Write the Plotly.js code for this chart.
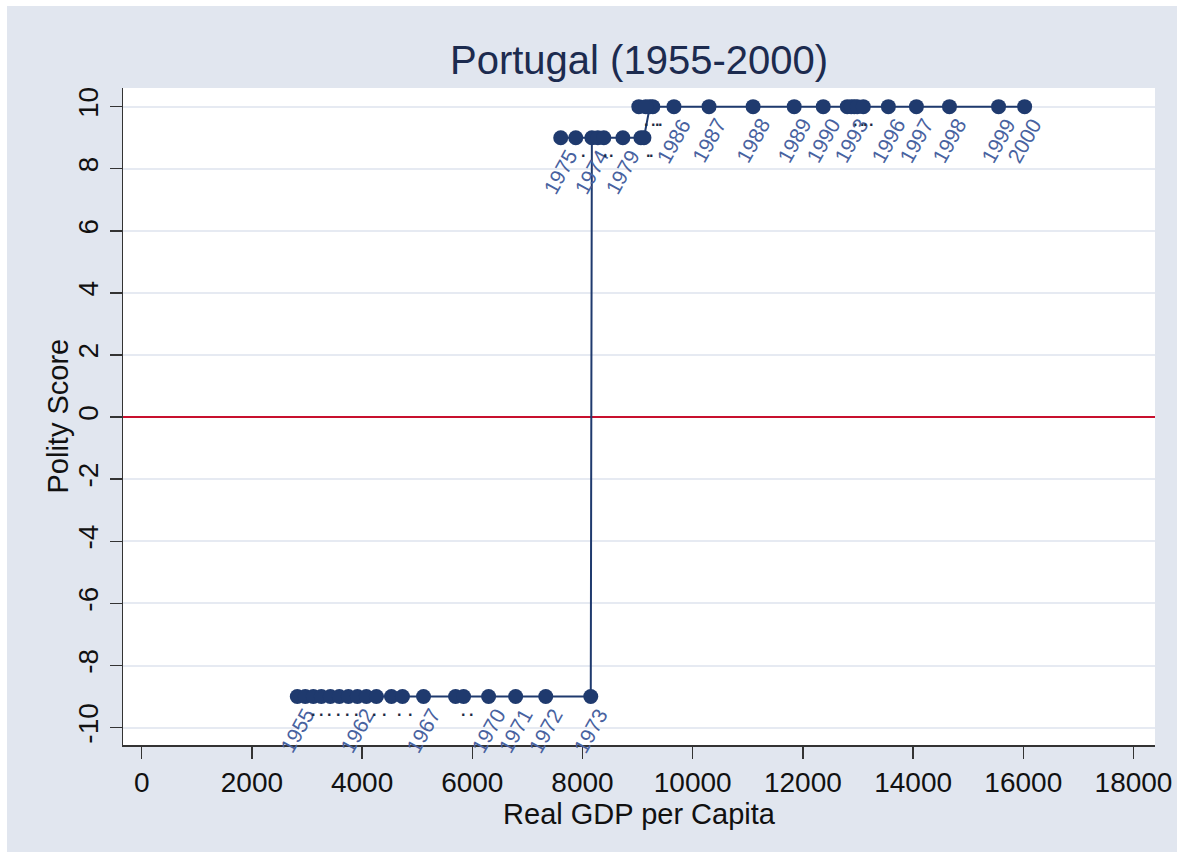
<!DOCTYPE html>
<html>
<head>
<meta charset="utf-8">
<script src="https://cdn.plot.ly/plotly-3.0.1.min.js"></script>
<style>
html,body{margin:0;padding:0;background:#ffffff;}
#chart{position:absolute;left:7px;top:6px;width:1170px;height:846px;}
</style>
</head>
<body>
<div id="chart"></div>
<script>
// Data
const years = [1955,1956,1957,1958,1959,1960,1961,1962,1963,1964,1965,1966,1967,1968,1969,1970,1971,1972,1973,
               1974,1975,1976,1977,1978,1979,1980,1981,
               1982,1983,1984,1985,1986,1987,1988,1989,1990,1991,1992,1993,1994,1995,1996,1997,1998,1999,2000];
const gdp = [2824,2969,3115,3260,3424,3587,3751,3915,4078,4260,4533,4733,5115,5696,5842,6296,6787,7333,8150,
             8170,7605,7878,8278,8387,8733,9060,9115,
             9222,9276,9022,9149,9660,10296,11096,11842,12369,12805,12933,12878,12987,13096,13551,14060,14660,15551,16024];
const polity = [-9,-9,-9,-9,-9,-9,-9,-9,-9,-9,-9,-9,-9,-9,-9,-9,-9,-9,-9,
                9,9,9,9,9,9,9,9,
                10,10,10,10,10,10,10,10,10,10,10,10,10,10,10,10,10,10,10];
const shownLabels = [1955,1962,1967,1970,1971,1972,1973,1974,1975,1979,1986,1987,1988,1989,1990,1993,1996,1997,1998,1999,2000];
const xTicks = [0,2000,4000,6000,8000,10000,12000,14000,16000,18000];
const yTicks = [-10,-8,-6,-4,-2,0,2,4,6,8,10];

const navy = '#1f3a6e';
const labelColor = '#4862a0';
const font = 'Liberation Sans, Arial, sans-serif';

const trace = {
  x: gdp, y: polity, type: 'scatter', mode: 'lines+markers',
  line: {color: navy, width: 2},
  marker: {color: navy, size: 15},
  hoverinfo: 'skip', showlegend: false
};

const annotations = [];
for (let i = 0; i < years.length; i++) {
  const named = shownLabels.indexOf(years[i]) >= 0;
  annotations.push(named ? {
    x: gdp[i], y: polity[i], xref: 'x', yref: 'y',
    text: String(years[i]), showarrow: false, textangle: -61,
    xanchor: 'center', yanchor: 'middle', yshift: -34, xshift: 0,
    font: {family: font, size: 21, color: labelColor}
  } : {
    x: gdp[i], y: polity[i], xref: 'x', yref: 'y',
    text: '<b>·</b>', showarrow: false,
    xanchor: 'center', yanchor: 'middle', yshift: -18, xshift: 8,
    font: {family: font, size: 16, color: '#1e2a44'}
  });
}
annotations.push({
  text: 'Polity Score', xref: 'paper', yref: 'paper', x: 0, y: 0.5,
  xshift: -66, textangle: -90, showarrow: false, xanchor: 'center', yanchor: 'middle',
  font: {family: font, size: 29, color: '#111111'}
});

const layout = {
  width: 1170, height: 846,
  paper_bgcolor: '#e1e6ef', plot_bgcolor: '#ffffff',
  margin: {l: 116, r: 22, t: 82, b: 107},
  font: {family: font, color: '#111111'},
  title: {text: 'Portugal (1955-2000)', font: {family: font, size: 40, color: '#1c2b4f'},
          x: 0.5, xref: 'paper', xanchor: 'center', y: 0.936, yref: 'container', yanchor: 'middle'},
  xaxis: {
    range: [-339, 18390], tickvals: xTicks, ticktext: xTicks.map(String),
    showgrid: false, zeroline: false, showline: true, linecolor: '#333333', linewidth: 1.5,
    ticks: 'outside', ticklen: 12, tickwidth: 1.5, tickcolor: '#333333',
    tickfont: {family: font, size: 28, color: '#111111'},
    title: {text: 'Real GDP per Capita', font: {family: font, size: 29, color: '#111111'}, standoff: 0}
  },
  yaxis: {
    range: [-10.56, 10.6], tickvals: yTicks, ticktext: yTicks.map(String), tickangle: -90,
    showgrid: true, gridcolor: '#e6eaf2', gridwidth: 2,
    zeroline: true, zerolinecolor: '#c8102e', zerolinewidth: 2,
    showline: true, linecolor: '#333333', linewidth: 1.5,
    ticks: 'outside', ticklen: 12, tickwidth: 1.5, tickcolor: '#333333',
    tickfont: {family: font, size: 28, color: '#111111'}
  },
  annotations: annotations
};

Plotly.newPlot('chart', [trace], layout, {staticPlot: true, displayModeBar: false});
</script>
</body>
</html>
